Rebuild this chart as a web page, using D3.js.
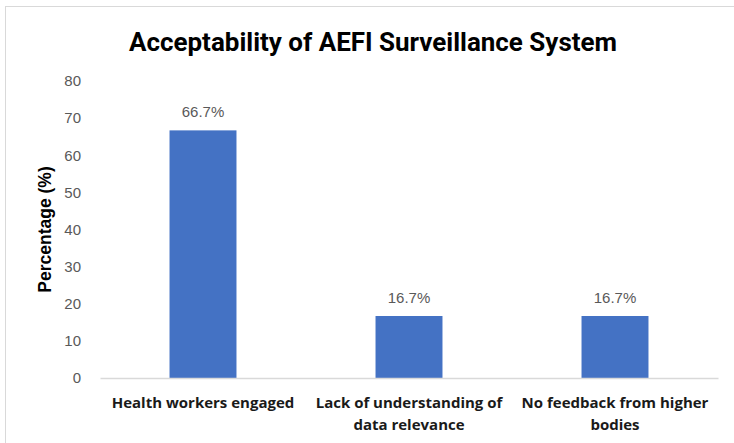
<!DOCTYPE html>
<html>
<head>
<meta charset="utf-8">
<script src="https://cdn.jsdelivr.net/npm/d3@7"></script>
<style>
  html, body { margin: 0; padding: 0; background: #fff; }
  svg { display: block; }
</style>
</head>
<body>
<svg id="chart" width="734" height="443"></svg>
<script>
// Chart data
const categories = [
  ["Health workers engaged"],
  ["Lack of understanding of", "data relevance"],
  ["No feedback from higher", "bodies"]
];
const values = [66.7, 16.7, 16.7];
const yTicks = [0, 10, 20, 30, 40, 50, 60, 70, 80];

const svg = d3.select("#chart");
const W = 734, H = 443;
const margin = { left: 100, right: 16, top: 81, bottom: 65 };

// Outer chart frame
svg.append("rect")
  .attr("x", 5.5).attr("y", 6.5)
  .attr("width", W).attr("height", H)
  .attr("fill", "#fff").attr("stroke", "#d9d9d9").attr("stroke-width", 1);

const x = d3.scaleBand()
  .domain(d3.range(values.length))
  .range([margin.left, W - margin.right])
  .paddingInner(0.675).paddingOuter(0.3375);

const y = d3.scaleLinear()
  .domain([0, 80])
  .range([H - margin.bottom, margin.top]);

// Title
svg.append("text")
  .attr("x", 373).attr("y", 51)
  .attr("text-anchor", "middle")
  .attr("font-family", "'Roboto', sans-serif")
  .attr("font-weight", "bold")
  .attr("font-size", 25)
  .attr("fill", "#000")
  .attr("textLength", 488)
  .attr("lengthAdjust", "spacingAndGlyphs")
  .text("Acceptability  of AEFI Surveillance System");

// Y axis (labels only)
const yAxis = d3.axisLeft(y).tickValues(yTicks).tickSize(0).tickPadding(19);
const yg = svg.append("g")
  .attr("transform", `translate(${margin.left},0)`)
  .call(yAxis);
yg.select(".domain").remove();
yg.selectAll("text")
  .attr("font-family", "'Liberation Sans', Arial, sans-serif")
  .attr("font-size", 15)
  .attr("fill", "#595959");

// Y axis title
svg.append("text")
  .attr("transform", `translate(51,${(y(0) + y(80)) / 2}) rotate(-90)`)
  .attr("text-anchor", "middle")
  .attr("font-family", "'Liberation Sans', Arial, sans-serif")
  .attr("font-weight", "bold")
  .attr("font-size", 17.5)
  .attr("fill", "#000")
  .text("Percentage (%)");

// Bars
svg.append("g").selectAll("rect")
  .data(values)
  .join("rect")
  .attr("x", (d, i) => x(i))
  .attr("y", d => y(d))
  .attr("width", x.bandwidth())
  .attr("height", d => y(0) - y(d))
  .attr("fill", "#4472C4");

// Data labels
svg.append("g").selectAll("text")
  .data(values)
  .join("text")
  .attr("x", (d, i) => x(i) + x.bandwidth() / 2)
  .attr("y", d => y(d) - 13)
  .attr("text-anchor", "middle")
  .attr("font-family", "'Liberation Sans', Arial, sans-serif")
  .attr("font-size", 15)
  .attr("fill", "#595959")
  .text(d => d.toFixed(1) + "%");

// X axis baseline
const xAxis = d3.axisBottom(x).tickSize(0).tickFormat(() => "");
const xg = svg.append("g")
  .attr("transform", `translate(0,${y(0)})`)
  .call(xAxis);
xg.select(".domain").attr("stroke", "#d9d9d9").attr("stroke-width", 1.5);

// Category labels
const catG = svg.append("g").selectAll("text")
  .data(categories)
  .join("text")
  .attr("x", (d, i) => x(i) + x.bandwidth() / 2)
  .attr("y", y(0) + 30)
  .attr("text-anchor", "middle")
  .attr("font-family", "'Open Sans', 'Noto Sans', sans-serif")
  .attr("font-weight", "bold")
  .attr("font-size", 15)
  .attr("fill", "#1a1a1a");
catG.selectAll("tspan")
  .data(d => d)
  .join("tspan")
  .attr("x", function () { return d3.select(this.parentNode).attr("x"); })
  .attr("dy", (d, i) => i === 0 ? 0 : 22)
  .text(d => d);
</script>
</body>
</html>
